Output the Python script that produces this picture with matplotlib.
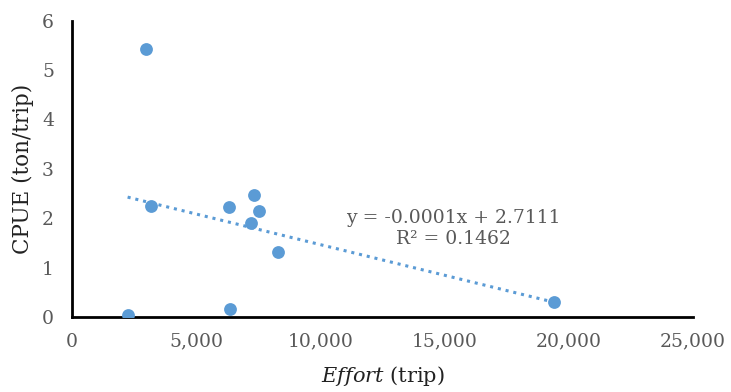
import numpy as np
import matplotlib.pyplot as plt

# Effort (trip) vs CPUE (ton/trip)
effort = [2980, 3170, 2240, 6310, 7330, 7520, 7200, 8280, 6350, 19410]
cpue = [5.43, 2.26, 0.04, 2.24, 2.48, 2.15, 1.91, 1.33, 0.17, 0.30]
x_ticks = [0, 5000, 10000, 15000, 20000, 25000]
y_ticks = [0, 1, 2, 3, 4, 5, 6]

blue = '#5B9BD5'
grey = '#595959'
plt.rcParams['font.family'] = ['DejaVu Serif']
plt.rcParams['mathtext.fontset'] = 'dejavuserif'

fig = plt.figure(figsize=(7.31, 3.92), dpi=100)
ax = fig.add_axes([0.0985, 0.1906, 0.849, 0.757])

ax.scatter(effort, cpue, s=85, color=blue, zorder=3, linewidths=0)

# linear trendline over the data range
slope, intercept = np.polyfit(effort, cpue, 1)
xs = np.array([min(effort), max(effort)])
ax.plot(xs, slope * xs + intercept, color=blue, linestyle=(0, (1, 1.6)), linewidth=2.2, zorder=2)

ax.text(0.615, 0.30, 'y = -0.0001x + 2.7111\nR² = 0.1462', transform=ax.transAxes,
        ha='center', va='center', fontsize=13.5, color=grey, linespacing=1.25)

ax.set_xlim(0, 25000)
ax.set_ylim(0, 6)
ax.set_xticks(x_ticks)
ax.set_yticks(y_ticks)
ax.set_xticklabels([f'{v:,}' for v in x_ticks])
ax.tick_params(length=0, labelsize=13.5, labelcolor=grey)
ax.tick_params(axis='x', pad=11)
ax.tick_params(axis='y', pad=13)

for side in ['top', 'right']:
    ax.spines[side].set_visible(False)
for side in ['left', 'bottom']:
    ax.spines[side].set_linewidth(2)
    ax.spines[side].set_color('black')

ax.set_ylabel('CPUE (ton/trip)', fontsize=15.5, color='#222222', labelpad=6)
ax.set_xlabel(r'$\mathit{Effort}$ (trip)', fontsize=15, color='#222222', labelpad=10)

fig.savefig('out.png', dpi=100)
